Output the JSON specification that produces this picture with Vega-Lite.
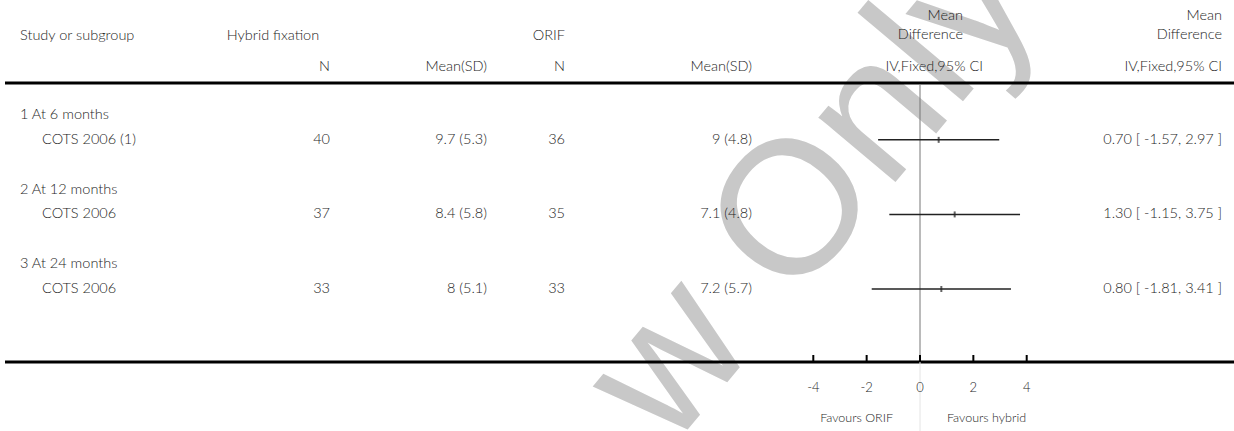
{
"$schema":"https://vega.github.io/schema/vega-lite/v6.json",
"width":1234,"height":431,"padding":0,
"autosize":{"type":"none"},
"background":"#ffffff",
"config":{"view":{"stroke":null},"text":{"font":"Lato","fontSize":14.5,"fontWeight":300,"color":"#1e1e1e"}},
"datasets":{
 "one":[{}],
 "groups":[{"row":"g1","label":"1 At 6 months"},{"row":"g2","label":"2 At 12 months"},{"row":"g3","label":"3 At 24 months"}],
 "studies":[
  {"row":"s1","study":"COTS 2006 (1)","n_h":40,"msd_h":"9.7 (5.3)","n_o":36,"msd_o":"9 (4.8)","md":0.70,"lo":-1.57,"hi":2.97,"ci":"0.70 [ -1.57, 2.97 ]"},
  {"row":"s2","study":"COTS 2006","n_h":37,"msd_h":"8.4 (5.8)","n_o":35,"msd_o":"7.1 (4.8)","md":1.30,"lo":-1.15,"hi":3.75,"ci":"1.30 [ -1.15, 3.75 ]"},
  {"row":"s3","study":"COTS 2006","n_h":33,"msd_h":"8 (5.1)","n_o":33,"msd_o":"7.2 (5.7)","md":0.80,"lo":-1.81,"hi":3.41,"ci":"0.80 [ -1.81, 3.41 ]"}],
 "ticks":[{"v":-4,"lab":"-4"},{"v":-2,"lab":"-2"},{"v":0,"lab":"0"},{"v":2,"lab":"2"},{"v":4,"lab":"4"}]
},
"data":{"name":"one"},
"resolve":{"scale":{"x":"independent","y":"independent"}},
"layer":[
 {"layer":[
  {"mark":{"type":"text","text":"w Only","angle":310,"align":"right","baseline":"alphabetic","font":"Liberation Sans","fontWeight":"normal","fontSize":190,"color":"#c8c8c8"},
   "encoding":{"x":{"datum":1043,"type":"quantitative","scale":{"domain":[0,1234],"range":[0,1234],"zero":false,"nice":false},"axis":null},
               "y":{"datum":6,"type":"quantitative","scale":{"domain":[0,431],"range":[0,431],"zero":false,"nice":false},"axis":null}}},
  {"mark":{"type":"rule","color":"#000000","strokeWidth":3},
   "encoding":{"x":{"datum":5,"type":"quantitative","axis":null},"x2":{"datum":1234},"y":{"datum":83,"type":"quantitative","axis":null}}},
  {"mark":{"type":"rule","color":"#000000","strokeWidth":3},
   "encoding":{"x":{"datum":5,"type":"quantitative","axis":null},"x2":{"datum":1234},"y":{"datum":362,"type":"quantitative","axis":null}}},
  {"mark":{"type":"text","text":"Study or subgroup","align":"left","baseline":"middle"},
   "encoding":{"x":{"datum":20,"type":"quantitative","axis":null},"y":{"datum":36,"type":"quantitative","axis":null}}},
  {"mark":{"type":"text","text":"Hybrid fixation","align":"center","baseline":"middle"},
   "encoding":{"x":{"datum":273,"type":"quantitative","axis":null},"y":{"datum":36,"type":"quantitative","axis":null}}},
  {"mark":{"type":"text","text":"ORIF","align":"right","baseline":"middle"},
   "encoding":{"x":{"datum":565,"type":"quantitative","axis":null},"y":{"datum":36,"type":"quantitative","axis":null}}},
  {"mark":{"type":"text","text":"Mean","align":"right","baseline":"middle"},
   "encoding":{"x":{"datum":963,"type":"quantitative","axis":null},"y":{"datum":16,"type":"quantitative","axis":null}}},
  {"mark":{"type":"text","text":"Difference","align":"right","baseline":"middle"},
   "encoding":{"x":{"datum":963,"type":"quantitative","axis":null},"y":{"datum":35,"type":"quantitative","axis":null}}},
  {"mark":{"type":"text","text":"Mean","align":"right","baseline":"middle"},
   "encoding":{"x":{"datum":1222,"type":"quantitative","axis":null},"y":{"datum":16,"type":"quantitative","axis":null}}},
  {"mark":{"type":"text","text":"Difference","align":"right","baseline":"middle"},
   "encoding":{"x":{"datum":1222,"type":"quantitative","axis":null},"y":{"datum":35,"type":"quantitative","axis":null}}},
  {"mark":{"type":"text","text":"N","align":"right","baseline":"middle"},
   "encoding":{"x":{"datum":330,"type":"quantitative","axis":null},"y":{"datum":66.5,"type":"quantitative","axis":null}}},
  {"mark":{"type":"text","text":"Mean(SD)","align":"right","baseline":"middle"},
   "encoding":{"x":{"datum":487,"type":"quantitative","axis":null},"y":{"datum":66.5,"type":"quantitative","axis":null}}},
  {"mark":{"type":"text","text":"N","align":"right","baseline":"middle"},
   "encoding":{"x":{"datum":565,"type":"quantitative","axis":null},"y":{"datum":66.5,"type":"quantitative","axis":null}}},
  {"mark":{"type":"text","text":"Mean(SD)","align":"right","baseline":"middle"},
   "encoding":{"x":{"datum":752,"type":"quantitative","axis":null},"y":{"datum":66.5,"type":"quantitative","axis":null}}},
  {"mark":{"type":"text","text":"IV,Fixed,95% CI","align":"right","baseline":"middle"},
   "encoding":{"x":{"datum":983,"type":"quantitative","axis":null},"y":{"datum":66.5,"type":"quantitative","axis":null}}},
  {"mark":{"type":"text","text":"IV,Fixed,95% CI","align":"right","baseline":"middle"},
   "encoding":{"x":{"datum":1222,"type":"quantitative","axis":null},"y":{"datum":66.5,"type":"quantitative","axis":null}}},
  {"mark":{"type":"text","text":"Favours ORIF","align":"right","baseline":"middle","fontSize":12.5},
   "encoding":{"x":{"datum":893,"type":"quantitative","axis":null},"y":{"datum":418,"type":"quantitative","axis":null}}},
  {"mark":{"type":"text","text":"Favours hybrid","align":"left","baseline":"middle","fontSize":12.5},
   "encoding":{"x":{"datum":947,"type":"quantitative","axis":null},"y":{"datum":418,"type":"quantitative","axis":null}}}
 ]},
 {"layer":[
  {"mark":{"type":"rule","color":"#777777","strokeWidth":1},
   "encoding":{"x":{"datum":0,"type":"quantitative","scale":{"domain":[-4,4],"range":[813.3,1026.7],"zero":false,"nice":false},"axis":null},
               "y":{"datum":85,"type":"quantitative","scale":{"domain":[0,431],"range":[0,431],"zero":false,"nice":false},"axis":null},"y2":{"datum":362}}},
  {"mark":{"type":"rule","color":"#e4e4e4","strokeWidth":1},
   "encoding":{"x":{"datum":0,"type":"quantitative","axis":null},"y":{"datum":362,"type":"quantitative","axis":null},"y2":{"datum":431}}},
  {"data":{"name":"ticks"},"mark":{"type":"rule","color":"#000000","strokeWidth":2},
   "encoding":{"x":{"field":"v","type":"quantitative","axis":null},"y":{"datum":355,"type":"quantitative","axis":null},"y2":{"datum":362}}},
  {"data":{"name":"ticks"},"mark":{"type":"text","align":"center","baseline":"middle","fontSize":13},
   "encoding":{"x":{"field":"v","type":"quantitative","axis":null},"y":{"datum":388,"type":"quantitative","axis":null},"text":{"field":"lab","type":"nominal"}}}
 ]},
 {"layer":[
  {"data":{"name":"groups"},"mark":{"type":"text","align":"left","baseline":"middle"},
   "encoding":{"x":{"datum":20,"type":"quantitative","scale":{"domain":[0,1234],"range":[0,1234],"zero":false,"nice":false},"axis":null},
               "y":{"field":"row","type":"nominal","scale":{"type":"point","domain":["g1","s1","b1","g2","s2","b2","g3","s3"],"range":[115,289],"padding":0},"axis":null},
               "text":{"field":"label","type":"nominal"}}},
  {"data":{"name":"studies"},"mark":{"type":"text","align":"left","baseline":"middle"},
   "encoding":{"x":{"datum":42,"type":"quantitative","axis":null},"y":{"field":"row","type":"nominal","axis":null},"text":{"field":"study","type":"nominal"}}},
  {"data":{"name":"studies"},"mark":{"type":"text","align":"right","baseline":"middle"},
   "encoding":{"x":{"datum":330,"type":"quantitative","axis":null},"y":{"field":"row","type":"nominal","axis":null},"text":{"field":"n_h","type":"quantitative"}}},
  {"data":{"name":"studies"},"mark":{"type":"text","align":"right","baseline":"middle"},
   "encoding":{"x":{"datum":487,"type":"quantitative","axis":null},"y":{"field":"row","type":"nominal","axis":null},"text":{"field":"msd_h","type":"nominal"}}},
  {"data":{"name":"studies"},"mark":{"type":"text","align":"right","baseline":"middle"},
   "encoding":{"x":{"datum":565,"type":"quantitative","axis":null},"y":{"field":"row","type":"nominal","axis":null},"text":{"field":"n_o","type":"quantitative"}}},
  {"data":{"name":"studies"},"mark":{"type":"text","align":"right","baseline":"middle"},
   "encoding":{"x":{"datum":752,"type":"quantitative","axis":null},"y":{"field":"row","type":"nominal","axis":null},"text":{"field":"msd_o","type":"nominal"}}},
  {"data":{"name":"studies"},"mark":{"type":"text","align":"right","baseline":"middle"},
   "encoding":{"x":{"datum":1222,"type":"quantitative","axis":null},"y":{"field":"row","type":"nominal","axis":null},"text":{"field":"ci","type":"nominal"}}}
 ]},
 {"layer":[
  {"data":{"name":"studies"},"mark":{"type":"rule","color":"#222222","strokeWidth":1.5},
   "encoding":{"x":{"field":"lo","type":"quantitative","scale":{"domain":[-4,4],"range":[813.3,1026.7],"zero":false,"nice":false},"axis":null},
               "x2":{"field":"hi"},
               "y":{"field":"row","type":"nominal","scale":{"type":"point","domain":["g1","s1","b1","g2","s2","b2","g3","s3"],"range":[115,289],"padding":0},"axis":null}}},
  {"data":{"name":"studies"},"mark":{"type":"tick","orient":"vertical","color":"#222222","size":6,"thickness":2},
   "encoding":{"x":{"field":"md","type":"quantitative","axis":null},"y":{"field":"row","type":"nominal","axis":null}}}
 ]}
]
}
